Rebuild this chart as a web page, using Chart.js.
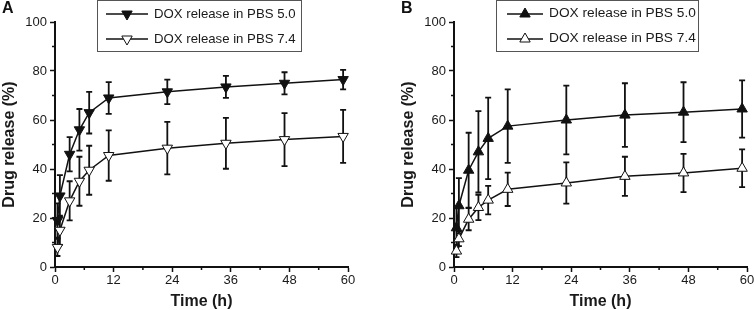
<!DOCTYPE html>
<html><head><meta charset="utf-8">
<script src="https://cdn.jsdelivr.net/npm/chart.js@4.4.0/dist/chart.umd.min.js"></script>
<style>
html,body{margin:0;padding:0;background:#fff;}
body{width:754px;height:310px;position:relative;overflow:hidden;font-family:"Liberation Sans",Arial,sans-serif;}
.pan{position:absolute;top:0;height:310px;}
.letter{position:absolute;top:0;font-weight:bold;font-size:16px;line-height:16px;color:#111;}
.legend{position:absolute;top:0;height:52px;border:1px solid #555;box-sizing:border-box;background:#fff;}
.legend svg{position:absolute;left:0;top:0;}
.legend span{position:absolute;white-space:nowrap;color:#1a1a1a;line-height:1;}
</style>
</head><body>
<div class="pan" style="left:0;width:377px"><canvas id="cA" width="377" height="310"></canvas></div>
<div class="pan" style="left:377px;width:390px"><canvas id="cB" width="390" height="310"></canvas></div>
<div class="letter" style="left:2px">A</div>
<div class="letter" style="left:401px">B</div>
<div class="legend" id="legA" style="left:97px;width:205px"></div>
<div class="legend" id="legB" style="left:496px;width:203px"></div>
<script>
const timeH = [0.5, 1, 3, 5, 7, 11, 23, 35, 47, 59];
const xTicks = [0, 12, 24, 36, 48, 60];
const yTicks = [0, 20, 40, 60, 80, 100];
const xMinorTicks = [6, 18, 30, 42, 54];
const yMinorTicks = [10, 30, 50, 70, 90];
const seriesNames = ['DOX release in PBS 5.0', 'DOX release in PBS 7.4'];

const A_pbs50 = [19, 29, 46, 56, 63, 69, 71.5, 73.5, 75, 76.5];
const A_pbs50_err = [7, 8.5, 7, 8.5, 8.5, 6.5, 5, 4.5, 4.5, 4];
const A_pbs74 = [8, 15, 27, 35, 39.5, 45.5, 48.5, 50.5, 52, 53.3];
const A_pbs74_err = [3.5, 6, 8, 10, 10, 10.3, 10.7, 10.4, 10.8, 10.8];

const B_pbs50 = [16, 25, 39.5, 47, 52.5, 57.5, 60, 62, 63.2, 64.5];
const B_pbs50_err = [8, 11.3, 15.3, 16.6, 16.6, 15, 14, 13, 12.2, 11.7];
const B_pbs74 = [6.5, 11.5, 19.5, 24.3, 27.3, 31.7, 34.3, 37, 38.4, 40.3];
const B_pbs74_err = [2.5, 3, 4.5, 5.2, 5.8, 6.8, 8.4, 8, 7.8, 7.7];

const FONT = '"Liberation Sans", Arial, sans-serif';
const INK = '#111';

const errorBars = {
  id: 'errorBars',
  beforeDatasetsDraw(chart) {
    const {ctx, scales: {x, y}} = chart;
    ctx.save();
    ctx.strokeStyle = INK;
    ctx.lineWidth = 1.8;
    chart.data.datasets.forEach(ds => {
      ds.data.forEach((p, i) => {
        const e = ds.errors[i];
        const px = x.getPixelForValue(p.x);
        const yt = y.getPixelForValue(p.y + e);
        const yb = y.getPixelForValue(p.y - e);
        ctx.beginPath();
        ctx.moveTo(px, yt); ctx.lineTo(px, yb);
        ctx.moveTo(px - 3, yt); ctx.lineTo(px + 3, yt);
        ctx.moveTo(px - 3, yb); ctx.lineTo(px + 3, yb);
        ctx.stroke();
      });
    });
    ctx.restore();
  }
};

const minorTicks = {
  id: 'minorTicks',
  afterDraw(chart) {
    const {ctx, scales: {x, y}} = chart;
    ctx.save();
    ctx.strokeStyle = INK;
    ctx.lineWidth = 1.5;
    ctx.beginPath();
    xMinorTicks.forEach(v => {
      const px = x.getPixelForValue(v);
      ctx.moveTo(px, y.bottom); ctx.lineTo(px, y.bottom + 3);
    });
    yMinorTicks.forEach(v => {
      const py = y.getPixelForValue(v);
      ctx.moveTo(x.left, py); ctx.lineTo(x.left - 3, py);
    });
    ctx.stroke();
    ctx.restore();
  }
};

function pts(vals) { return timeH.map((t, i) => ({x: t, y: vals[i]})); }

function makeChart(id, s50, e50, s74, e74, rot, padL, padR) {
  return new Chart(document.getElementById(id), {
    type: 'line',
    data: {
      datasets: [
        {label: seriesNames[0], data: pts(s50), errors: e50, borderColor: INK, borderWidth: 1.5,
         pointStyle: 'triangle', rotation: rot, pointRadius: 6, pointBackgroundColor: INK,
         pointBorderColor: INK, pointBorderWidth: 1, clip: false, tension: 0},
        {label: seriesNames[1], data: pts(s74), errors: e74, borderColor: INK, borderWidth: 1.5,
         pointStyle: 'triangle', rotation: rot, pointRadius: 6, pointBackgroundColor: '#fff',
         pointBorderColor: INK, pointBorderWidth: 1, clip: false, tension: 0}
      ]
    },
    options: {
      responsive: false, animation: false,
      layout: {padding: {top: 22, bottom: 0, left: padL, right: padR}},
      plugins: {legend: {display: false}, tooltip: {enabled: false}},
      scales: {
        x: {
          type: 'linear', min: 0, max: 60,
          afterBuildTicks: s => { s.ticks = xTicks.map(v => ({value: v})); },
          afterFit: s => { s.height = 43; },
          grid: {display: true, drawOnChartArea: false, drawTicks: true, tickLength: 5, tickWidth: 1.5, tickColor: INK},
          border: {display: true, color: INK, width: 2},
          ticks: {font: {family: FONT, size: 13}, color: '#1a1a1a', padding: 1, maxRotation: 0},
          title: {display: true, text: 'Time (h)', color: '#1a1a1a',
                  font: {family: FONT, size: 16, weight: 'bold', lineHeight: 1}, padding: 0}
        },
        y: {
          type: 'linear', min: 0, max: 100,
          afterBuildTicks: s => { s.ticks = yTicks.map(v => ({value: v})); },
          afterFit: s => { s.width = 55; },
          grid: {display: true, drawOnChartArea: false, drawTicks: true, tickLength: 5, tickWidth: 1.5, tickColor: INK},
          border: {display: true, color: INK, width: 2},
          ticks: {font: {family: FONT, size: 13}, color: '#1a1a1a', padding: 3},
          title: {display: true, text: 'Drug release (%)', color: '#1a1a1a',
                  font: {family: FONT, size: 16, weight: 'bold', lineHeight: 1}, padding: {top: 2, bottom: 0}}
        }
      }
    },
    plugins: [errorBars, minorTicks]
  });
}

makeChart('cA', A_pbs50, A_pbs50_err, A_pbs74, A_pbs74_err, 180, 0, 29);
makeChart('cB', B_pbs50, B_pbs50_err, B_pbs74, B_pbs74_err, 0, 22, 20);

function triPoints(cx, cy, r, down) {
  const s = down ? -1 : 1;
  const h = r * Math.sqrt(3) / 2;
  return `${cx},${cy - s * r} ${cx - h},${cy + s * r / 2} ${cx + h},${cy + s * r / 2}`;
}
function buildLegend(id, w, lineX0, lineX1, textX, fontSize, down) {
  const el = document.getElementById(id);
  const rows = [13, 38];
  let svg = `<svg width="${w}" height="52" xmlns="http://www.w3.org/2000/svg">`;
  rows.forEach((ry, i) => {
    const cx = (lineX0 + lineX1) / 2;
    svg += `<line x1="${lineX0}" y1="${ry}" x2="${lineX1}" y2="${ry}" stroke="${INK}" stroke-width="1.5"/>`;
    svg += `<polygon points="${triPoints(cx, ry, 6, down)}" fill="${i === 0 ? INK : '#fff'}" stroke="${INK}" stroke-width="1"/>`;
  });
  svg += '</svg>';
  el.innerHTML = svg + rows.map((ry, i) =>
    `<span style="left:${textX}px;top:${ry - fontSize * 0.55}px;font-size:${fontSize}px">${seriesNames[i]}</span>`).join('');
}
buildLegend('legA', 205, 8, 50, 56, 13.2, true);
buildLegend('legB', 203, 10, 46, 52, 13.7, false);
</script>
</body></html>
